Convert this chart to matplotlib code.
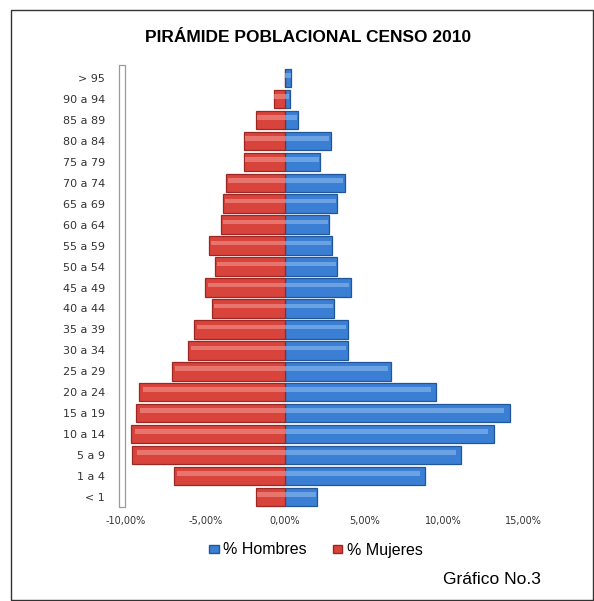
import numpy as np
import matplotlib
matplotlib.use("Agg")
import matplotlib.pyplot as plt
from matplotlib.patches import Rectangle, Patch
from matplotlib.ticker import FuncFormatter

plt.rcParams["font.family"] = ["Liberation Sans", "DejaVu Sans"]

# grupos de edad, de abajo hacia arriba
grupos = ["< 1", "1 a 4", "5 a 9", "10 a 14", "15 a 19", "20 a 24", "25 a 29",
          "30 a 34", "35 a 39", "40 a 44", "45 a 49", "50 a 54", "55 a 59",
          "60 a 64", "65 a 69", "70 a 74", "75 a 79", "80 a 84", "85 a 89",
          "90 a 94", "> 95"]
hombres = [2.0, 8.8, 11.1, 13.2, 14.2, 9.5, 6.7, 4.0, 4.0, 3.1, 4.2, 3.3, 3.0,
           2.8, 3.3, 3.8, 2.2, 2.9, 0.8, 0.3, 0.4]
mujeres = [1.8, 7.0, 9.6, 9.7, 9.4, 9.2, 7.1, 6.1, 5.7, 4.6, 5.0, 4.4, 4.8,
           4.0, 3.9, 3.7, 2.6, 2.6, 1.8, 0.7, 0.0]
xticks = [-10, -5, 0, 5, 10, 15]

AZUL, AZUL_OSC, AZUL_CLR = "#3b7fd4", "#22569a", "#7fb2ec"
ROJO, ROJO_OSC, ROJO_CLR = "#d8433c", "#9c2722", "#ef8a84"

W, H = 594, 601
fig = plt.figure(figsize=(W / 100, H / 100), dpi=100)
ax = fig.add_axes([126 / W, 1 - 507.5 / H, 397 / W, 440 / H])

y = np.arange(len(grupos))
h = np.array(hombres)
m = -np.array(mujeres)

# cuerpo de las barras + brillo para imitar el cilindro
ax.barh(y, h, height=0.88, color=AZUL, edgecolor=AZUL_OSC, linewidth=0.9)
ax.barh(y, m, height=0.88, color=ROJO, edgecolor=ROJO_OSC, linewidth=0.9)
ax.barh(y + 0.12, h * 0.97, height=0.22, color=AZUL_CLR, linewidth=0, alpha=0.7)
ax.barh(y + 0.12, m * 0.97, height=0.22, color=ROJO_CLR, linewidth=0, alpha=0.7)

ax.set_xlim(-10, 15)
ax.set_ylim(-0.5, len(grupos) - 0.5)
ax.set_yticks(y)
ax.set_yticklabels(grupos, fontsize=8, color="#333333", family="DejaVu Sans")
ax.set_xticks(xticks)
ax.xaxis.set_major_formatter(FuncFormatter(lambda v, p: f"{v:.2f}%".replace(".", ",")))
for t in ax.get_xticklabels():
    t.set_family("DejaVu Sans")
ax.tick_params(axis="x", labelsize=7, colors="#333333", length=0, pad=6)
ax.tick_params(axis="y", length=0, pad=15)
for s in ax.spines.values():
    s.set_visible(False)

# pared lateral del grafico 3D
fig.patches.append(Rectangle((119 / W, 1 - 507 / H), 6 / W, 442 / H,
                             transform=fig.transFigure, facecolor="white",
                             edgecolor="#9a9a9a", linewidth=0.9))

fig.text(308 / W, 1 - 38 / H, "PIRÁMIDE POBLACIONAL CENSO 2010",
         ha="center", va="center", fontsize=12.5, fontweight="bold")

handles = [Patch(facecolor=AZUL, edgecolor=AZUL_OSC, label="% Hombres"),
           Patch(facecolor=ROJO, edgecolor=ROJO_OSC, label="% Mujeres")]
fig.legend(handles=handles, loc="center", bbox_to_anchor=(316 / W, 1 - 550 / H),
           ncol=2, frameon=False, fontsize=11.5, handlelength=0.6, handleheight=0.45,
           handletextpad=0.3, columnspacing=1.6)

fig.text(541 / W, 1 - 580 / H, "Gráfico No.3", ha="right", va="center", fontsize=12.5)

# marco exterior
fig.patches.append(Rectangle((11 / W, 1 / H), 582 / W, 590 / H,
                             transform=fig.transFigure, facecolor="none",
                             edgecolor="#333333", linewidth=1.0))

fig.savefig("out.png", dpi=100)
